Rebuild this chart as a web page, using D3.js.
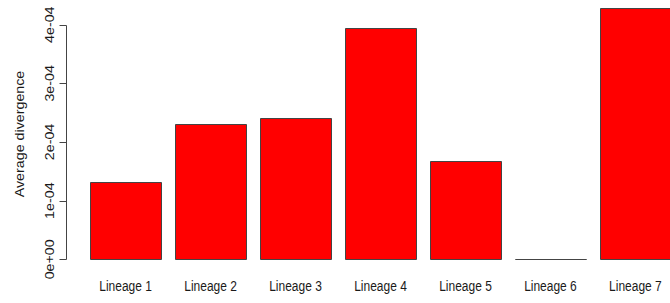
<!DOCTYPE html>
<html>
<head>
<meta charset="utf-8">
<script src="https://cdn.jsdelivr.net/npm/d3@7"></script>
<style>
  html, body { margin: 0; padding: 0; background: #fff; }
  svg { display: block; font-family: "Liberation Sans", Arial, sans-serif; }
</style>
</head>
<body>
<div id="chart"></div>
<script>
const lineages = ["Lineage 1", "Lineage 2", "Lineage 3", "Lineage 4", "Lineage 5", "Lineage 6", "Lineage 7"];
const divergence = [1.32e-4, 2.31e-4, 2.41e-4, 3.945e-4, 1.675e-4, 0, 4.29e-4];
const yTicks = [0, 1e-4, 2e-4, 3e-4, 4e-4];
const yTickLabels = ["0e+00", "1e-04", "2e-04", "3e-04", "4e-04"];

const width = 670, height = 303;
const stretch = 1.19; // the reference is stretched vertically

const svg = d3.select("#chart").append("svg")
    .attr("width", width).attr("height", height);

const x = d3.scaleBand().domain(lineages).range([76, 685]).paddingInner(1 / 6).paddingOuter(1 / 6);
const y = d3.scaleLinear().domain([0, 4e-4]).range([259.3, 24.7]);

// bars drawn as paths so a zero-height bar still shows its outline
svg.append("g").selectAll("path").data(lineages).join("path")
    .attr("d", (d, i) => {
        const x0 = Math.round(x(d)) + 0.5, x1 = Math.round(x(d) + x.bandwidth()) + 0.5;
        const y0 = Math.round(y(0)) + 0.5, y1 = Math.round(y(divergence[i])) + 0.5;
        return `M${x0},${y0}H${x1}V${y1}H${x0}Z`;
    })
    .attr("fill", "#ff0000")
    .attr("stroke", "#444")
    .attr("stroke-width", 1);

// x labels (no axis line, like R barplot)
svg.append("g").selectAll("text").data(lineages).join("text")
    .attr("transform", d => `translate(${x(d) + x.bandwidth() / 2},291) scale(1,${stretch})`)
    .attr("text-anchor", "middle")
    .style("font-size", "12px")
    .style("fill", "#1a1a1a")
    .text(d => d);

// y axis
const yAxis = svg.append("g").attr("transform", "translate(66.5,0)");
yAxis.append("line")
    .attr("x1", 0).attr("x2", 0)
    .attr("y1", Math.round(y(0)) + 0.5).attr("y2", Math.round(y(4e-4)) + 0.5)
    .attr("stroke", "#444");
yAxis.selectAll("line.tick").data(yTicks).join("line")
    .attr("class", "tick")
    .attr("x1", 0).attr("x2", -7)
    .attr("y1", d => Math.round(y(d)) + 0.5).attr("y2", d => Math.round(y(d)) + 0.5)
    .attr("stroke", "#444");
yAxis.selectAll("text").data(yTicks).join("text")
    .attr("transform", d => `translate(-12.5,${y(d)}) scale(1,${stretch}) rotate(-90)`)
    .attr("text-anchor", "middle")
    .style("font-size", "12px")
    .style("fill", "#1a1a1a")
    .text((d, i) => yTickLabels[i]);

// y title
svg.append("text")
    .attr("transform", `translate(23.5,134) scale(1,${stretch}) rotate(-90)`)
    .attr("text-anchor", "middle")
    .style("font-size", "12px")
    .style("fill", "#1a1a1a")
    .text("Average divergence");
</script>
</body>
</html>
